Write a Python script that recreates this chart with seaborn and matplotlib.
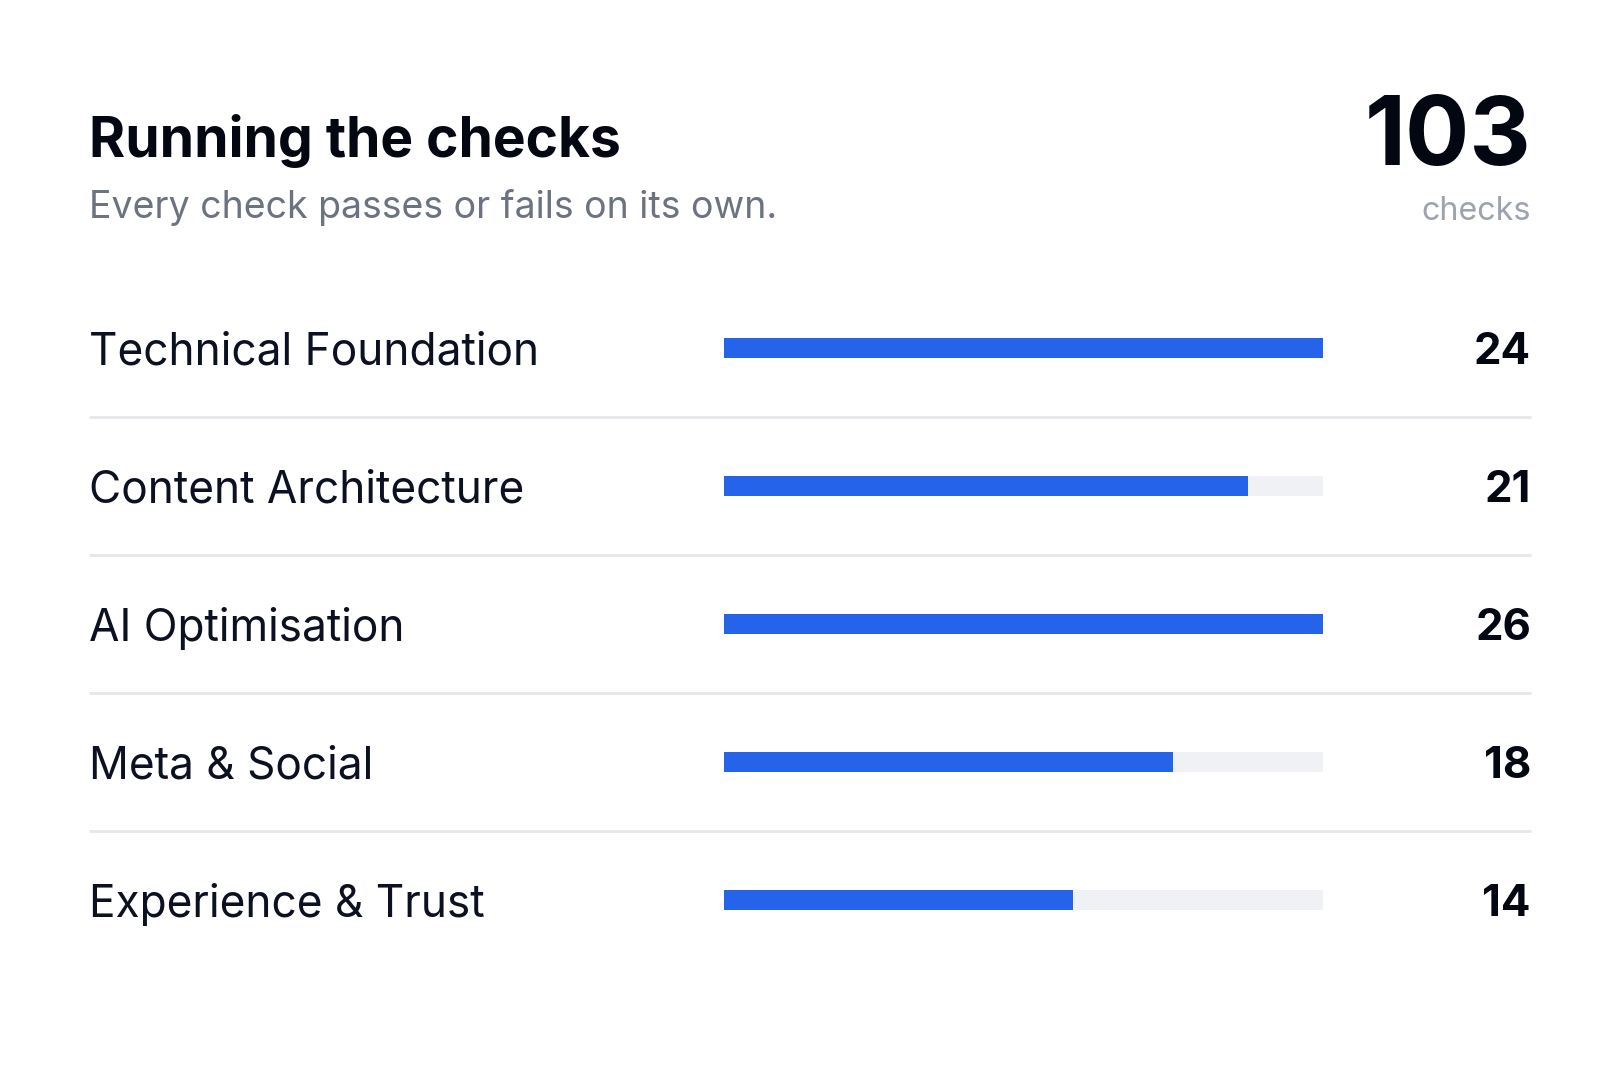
import matplotlib
matplotlib.use("Agg")
import matplotlib.pyplot as plt
import matplotlib.transforms as mtransforms
import seaborn as sns

# data
categories = ["Technical Foundation", "Content Architecture", "AI Optimisation",
              "Meta & Social", "Experience & Trust"]
counts = [24, 21, 26, 18, 14]
total = 103
scale_max = 24   # a full bar = 24 checks

title = "Running the checks"
subtitle = "Every check passes or fails on its own."
total_label = "checks"

sns.set_theme(style="white")
plt.rcParams["font.family"] = ["Inter", "DejaVu Sans"]

W, H = 1620, 1080
fig = plt.figure(figsize=(W / 100, H / 100), dpi=100, facecolor="white")

# bar axes: track area 724..1323 px wide, rows 138 px apart
row_h = 138
top_px = 348 - row_h / 2
ax = fig.add_axes([724 / W, 1 - (top_px + row_h * 5) / H, 599 / W, row_h * 5 / H])

bar_w = 20 / row_h
ax.barh(range(len(categories)), [scale_max] * len(categories), height=bar_w,
        color="#f0f1f5", linewidth=0)
sns.barplot(x=counts, y=categories, orient="h", width=bar_w, color="#2563eb",
            saturation=1, linewidth=0, ax=ax)

ax.set_xlim(0, scale_max)
ax.set_ylim(len(categories) - 0.5, -0.5)
ax.axis("off")

# x in figure pixels, y in row data units
tr = mtransforms.blended_transform_factory(fig.transFigure, ax.transData)
left_x = 89 / W
right_x = 1531 / W

for i, (cat, n) in enumerate(zip(categories, counts)):
    ax.text(left_x, i, cat, transform=tr, ha="left", va="center_baseline",
            fontsize=31.8, color="#0b1120", clip_on=False)
    ax.text(right_x, i, str(n), transform=tr, ha="right", va="center_baseline",
            fontsize=31.5, fontweight="bold", color="#030712", clip_on=False)
    if i < len(categories) - 1:
        ax.plot([left_x, right_x], [i + 0.5, i + 0.5], transform=tr,
                color="#e5e7eb", lw=2, clip_on=False, solid_capstyle="butt")

# header
fig.text(left_x, 1 - 157 / H, title, ha="left", va="baseline",
         fontsize=39.7, fontweight="bold", color="#030712")
fig.text(left_x, 1 - 218 / H, subtitle, ha="left", va="baseline",
         fontsize=27, color="#6b7280")
fig.text(right_x, 1 - 165 / H, str(total), ha="right", va="baseline",
         fontsize=68.5, fontweight="bold", color="#030712")
fig.text(right_x, 1 - 220 / H, total_label, ha="right", va="baseline",
         fontsize=23.2, color="#9ca3af")

fig.savefig("out.png", dpi=100, facecolor="white")
